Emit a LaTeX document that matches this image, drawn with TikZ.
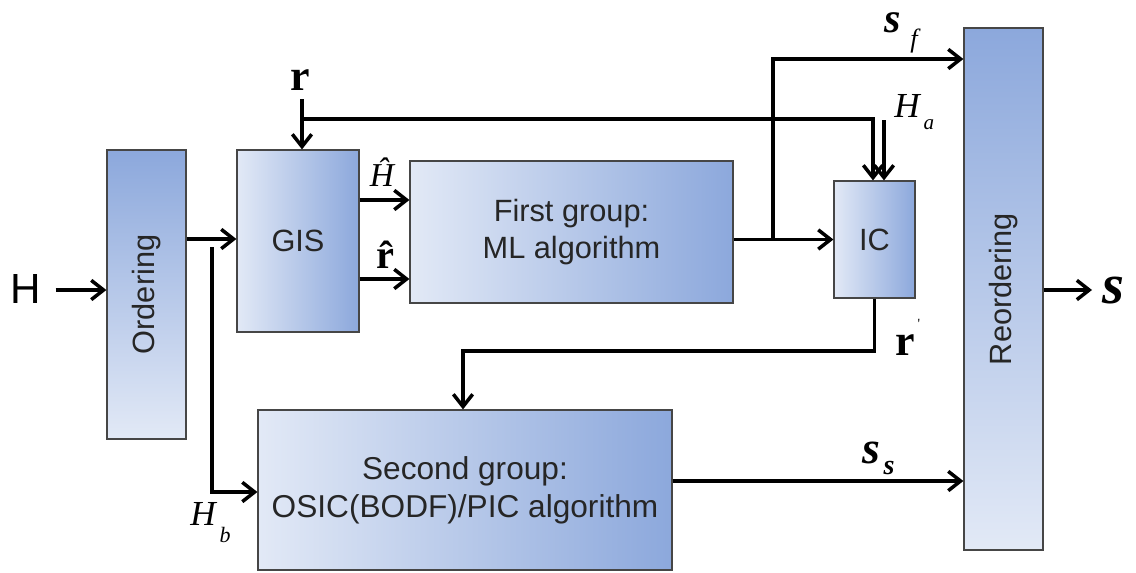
\documentclass[tikz,border=0pt]{standalone}
\usepackage{fontspec}
\setmainfont{Liberation Sans}
\newfontfamily\tms{Liberation Serif}
\usetikzlibrary{arrows.meta,shadings}
\definecolor{bdark}{RGB}{140,168,220}
\definecolor{blight}{RGB}{226,233,246}
\definecolor{bord}{RGB}{70,70,70}
\begin{document}
\begin{tikzpicture}[x=0.02cm,y=-0.02cm,
  box/.style={draw=bord, line width=0.7pt, inner sep=0pt, align=center, text=black!85,
    font=\fontsize{17.5}{21.5}\selectfont},
  hbox/.style={box, left color=blight, right color=bdark},
  vbox/.style={box, top color=bdark, bottom color=blight},
  arr/.style={line width=2pt, -{Straight Barb[length=7pt,width=11pt]}},
  ln/.style={line width=2pt},
  lbl/.style={inner sep=0pt, anchor=base}
]
\useasboundingbox (0,0) rectangle (1136,572);

% boxes
\node[vbox, minimum width=1.58cm, minimum height=5.78cm] (ord) at (146.5,294.5) {\rotatebox{90}{Ordering}};
\node[hbox, minimum width=2.44cm, minimum height=3.64cm] (gis) at (298,241) {GIS};
\node[hbox, minimum width=6.46cm, minimum height=2.84cm] (fg) at (571.5,232) {First group:\\ML algorithm};
\node[hbox, minimum width=1.62cm, minimum height=2.34cm] (ic) at (874.5,239.5) {IC};
\node[vbox, minimum width=1.58cm, minimum height=10.44cm] (reo) at (1003.5,289) {\rotatebox{90}{Reordering}};
\node[hbox, minimum width=8.28cm, minimum height=3.2cm, font=\fontsize{18}{21.5}\selectfont] (sg) at (465,490) {Second group:\\OSIC(BODF)/PIC algorithm};

% labels
\node[lbl, font=\fontsize{24}{24}\selectfont] (lH) at (26,303) {H};
\node[lbl, font={\tms\bfseries\fontsize{25}{25}\selectfont}] (lr) at (300,90) {r};
\node[lbl, font={\tms\itshape\fontsize{19}{19}\selectfont}] (lHh) at (382,186) {Ĥ};
\node[lbl, font={\tms\bfseries\fontsize{23}{23}\selectfont}] (lrh) at (385,268) {\^{r}};
\node[lbl, font={\tms\itshape\fontsize{20}{20}\selectfont}] (lHa) at (907,117) {H};
\node[lbl, font={\tms\itshape\fontsize{12}{12}\selectfont}] (lHa2) at (929,129) {a};
\node[lbl, font={\tms\itshape\fontsize{20}{20}\selectfont}] (lHb) at (203,525) {H};
\node[lbl, font={\tms\itshape\fontsize{12.5}{12.5}\selectfont}] (lHb2) at (225,542) {b};
\node[lbl, font={\tms\bfseries\itshape\fontsize{24}{24}\selectfont}] (lsf) at (893,32) {s};
\node[lbl, font={\tms\itshape\fontsize{15}{15}\selectfont}] (lsf2) at (914,47) {f};
\node[lbl, font={\tms\bfseries\itshape\fontsize{26}{26}\selectfont}] (lss) at (871,463) {s};
\node[lbl, font={\tms\bfseries\itshape\fontsize{16}{16}\selectfont}] (lss2) at (889,474) {s};
\node[lbl, font={\tms\bfseries\itshape\fontsize{32}{32}\selectfont}] (ls) at (1113,303) {s};
\node[lbl, font={\tms\bfseries\fontsize{25}{25}\selectfont}] (lrp) at (905,355) {r};
\node[lbl, font={\tms\fontsize{8}{8}\selectfont}] (lrp2) at (919,328) {\textquotesingle};

% helper coordinates
\coordinate (hb0) at (212,247);
\coordinate (rtop) at (302,99);
\coordinate (rline) at (302,119);
\coordinate (ha) at ([xshift=0.19cm]ic.north);
\coordinate (rin) at ([xshift=-0.03cm]ic.north);
\coordinate (br) at (773,239.5);
\coordinate (rp) at (463,351);
\coordinate (sout) at (1092,290);

% connectors
\draw[arr] ([xshift=0.28cm]lH.east |- 0,290) -- (ord.west |- 0,290);
\draw[arr] (ord.east |- 0,239) -- (gis.west |- 0,239);
\draw[arr] (hb0) |- (sg.west |- 0,492);
\draw[arr] (rtop) -- (rtop |- gis.north);
\draw[arr] (rline) -| (rin);
\draw[arr] (ha |- 0,120) -- (ha);
\draw[arr] (gis.east |- 0,200) -- (fg.west |- 0,200);
\draw[arr] (gis.east |- 0,279) -- (fg.west |- 0,279);
\draw[arr] (fg.east |- ic.west) -- (ic.west);
\draw[arr] (br) |- (reo.west |- 0,59);
\draw[arr] (ic.south) |- (rp) -- (rp |- sg.north);
\draw[arr] (sg.east |- 0,481) -- (reo.west |- 0,481);
\draw[arr] (reo.east |- sout) -- (sout);
\end{tikzpicture}
\end{document}
